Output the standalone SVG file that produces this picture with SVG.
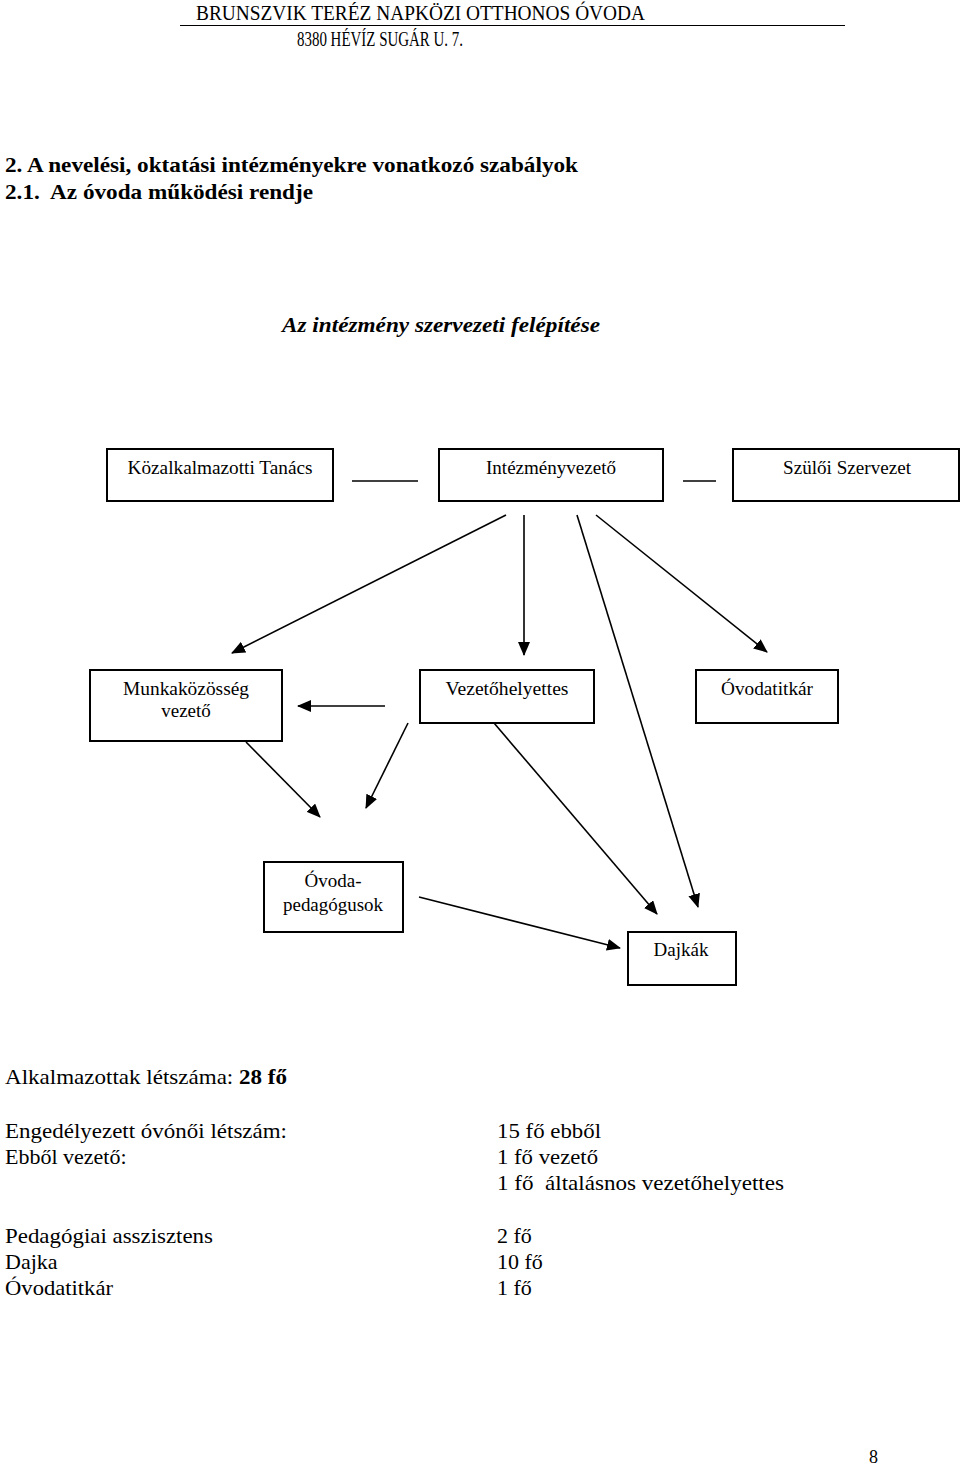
<svg xmlns="http://www.w3.org/2000/svg" width="960" height="1468" viewBox="0 0 960 1468">
<style>
text{font-family:"Liberation Serif","Times New Roman",serif;fill:#000}
.hd{font-size:20px}
.tt{font-size:22px;font-weight:bold}
.it{font-size:22px;font-style:italic;font-weight:bold}
.lb{font-size:19px;text-anchor:middle}
.bt{font-size:22px}
.box{fill:#fff;stroke:#000;stroke-width:2}
.ln{stroke:#000;stroke-width:1.6;fill:none}
.ar{stroke:#000;stroke-width:1.6;fill:none;marker-end:url(#ah)}
</style>
<defs>
<marker id="ah" markerUnits="userSpaceOnUse" markerWidth="14" markerHeight="12" viewBox="0 0 14 12" refX="13" refY="6" orient="auto">
<path d="M0,0 L14,6 L0,12 Z" fill="#000"/>
</marker>
</defs>
<rect width="960" height="1468" fill="#fff"/>
<g id="header">
<text class="hd" x="196" y="20" textLength="449" lengthAdjust="spacingAndGlyphs">BRUNSZVIK TERÉZ NAPKÖZI OTTHONOS ÓVODA</text>
<line x1="180" y1="25.5" x2="845" y2="25.5" stroke="#000" stroke-width="1"/>
<text class="hd" x="297" y="46" textLength="166" lengthAdjust="spacingAndGlyphs">8380 HÉVÍZ SUGÁR U. 7.</text>
</g>
<g id="titles">
<text class="tt" x="5" y="172" textLength="573" lengthAdjust="spacingAndGlyphs">2. A nevelési, oktatási intézményekre vonatkozó szabályok</text>
<text class="tt" x="5" y="199" textLength="308" lengthAdjust="spacingAndGlyphs" xml:space="preserve">2.1.  Az óvoda működési rendje</text>
<text class="it" x="282" y="332" textLength="318" lengthAdjust="spacingAndGlyphs">Az intézmény szervezeti felépítése</text>
</g>
<g id="connectors">
<line class="ln" x1="352" y1="481" x2="418" y2="481"/>
<line class="ln" x1="683" y1="481" x2="716" y2="481"/>
<line class="ar" x1="506" y1="515" x2="232" y2="653"/>
<line class="ar" x1="524" y1="515" x2="524" y2="655"/>
<line class="ar" x1="577" y1="515" x2="698" y2="907"/>
<line class="ar" x1="596" y1="515" x2="767" y2="652"/>
<line class="ar" x1="385" y1="706" x2="298" y2="706"/>
<line class="ar" x1="246" y1="742" x2="320" y2="817"/>
<line class="ar" x1="408" y1="723" x2="366" y2="808"/>
<line class="ar" x1="494" y1="723" x2="657" y2="914"/>
<line class="ar" x1="419" y1="897" x2="620" y2="948"/>
</g>
<g id="n-kozalk">
<rect class="box" x="107" y="449" width="226" height="52"/>
<text class="lb" x="220" y="474" textLength="185" lengthAdjust="spacingAndGlyphs">Közalkalmazotti Tanács</text>
</g>
<g id="n-intvez">
<rect class="box" x="439" y="449" width="224" height="52"/>
<text class="lb" x="551" y="474" textLength="130" lengthAdjust="spacingAndGlyphs">Intézményvezető</text>
</g>
<g id="n-szuloi">
<rect class="box" x="733" y="449" width="226" height="52"/>
<text class="lb" x="847" y="474" textLength="128" lengthAdjust="spacingAndGlyphs">Szülői Szervezet</text>
</g>
<g id="n-munka">
<rect class="box" x="90" y="670" width="192" height="71"/>
<text class="lb" x="186" y="695" textLength="126" lengthAdjust="spacingAndGlyphs">Munkaközösség</text>
<text class="lb" x="186" y="717">vezető</text>
</g>
<g id="n-vezh">
<rect class="box" x="420" y="670" width="174" height="53"/>
<text class="lb" x="507" y="695" textLength="123" lengthAdjust="spacingAndGlyphs">Vezetőhelyettes</text>
</g>
<g id="n-titkar">
<rect class="box" x="696" y="670" width="142" height="53"/>
<text class="lb" x="767" y="695" textLength="92" lengthAdjust="spacingAndGlyphs">Óvodatitkár</text>
</g>
<g id="n-pedag">
<rect class="box" x="264" y="862" width="139" height="70"/>
<text class="lb" x="333" y="887">Óvoda-</text>
<text class="lb" x="333" y="911" textLength="100" lengthAdjust="spacingAndGlyphs">pedagógusok</text>
</g>
<g id="n-dajkak">
<rect class="box" x="628" y="932" width="108" height="53"/>
<text class="lb" x="681" y="956">Dajkák</text>
</g>
<g id="stats">
<text class="bt" x="5" y="1084" textLength="282" lengthAdjust="spacingAndGlyphs">Alkalmazottak létszáma: <tspan font-weight="bold">28 fő</tspan></text>
<text class="bt" x="5" y="1138" textLength="282" lengthAdjust="spacingAndGlyphs">Engedélyezett óvónői létszám:</text>
<text class="bt" x="5" y="1164">Ebből vezető:</text>
<text class="bt" x="497" y="1138" textLength="104" lengthAdjust="spacingAndGlyphs">15 fő ebből</text>
<text class="bt" x="497" y="1164" textLength="101" lengthAdjust="spacingAndGlyphs">1 fő vezető</text>
<text class="bt" x="497" y="1190" textLength="287" lengthAdjust="spacingAndGlyphs" xml:space="preserve">1 fő  általásnos vezetőhelyettes</text>
<text class="bt" x="5" y="1243" textLength="208" lengthAdjust="spacingAndGlyphs">Pedagógiai asszisztens</text>
<text class="bt" x="5" y="1269">Dajka</text>
<text class="bt" x="5" y="1295" textLength="108" lengthAdjust="spacingAndGlyphs">Óvodatitkár</text>
<text class="bt" x="497" y="1243">2 fő</text>
<text class="bt" x="497" y="1269">10 fő</text>
<text class="bt" x="497" y="1295">1 fő</text>
</g>
<text x="869" y="1463" font-size="18">8</text>
</svg>
